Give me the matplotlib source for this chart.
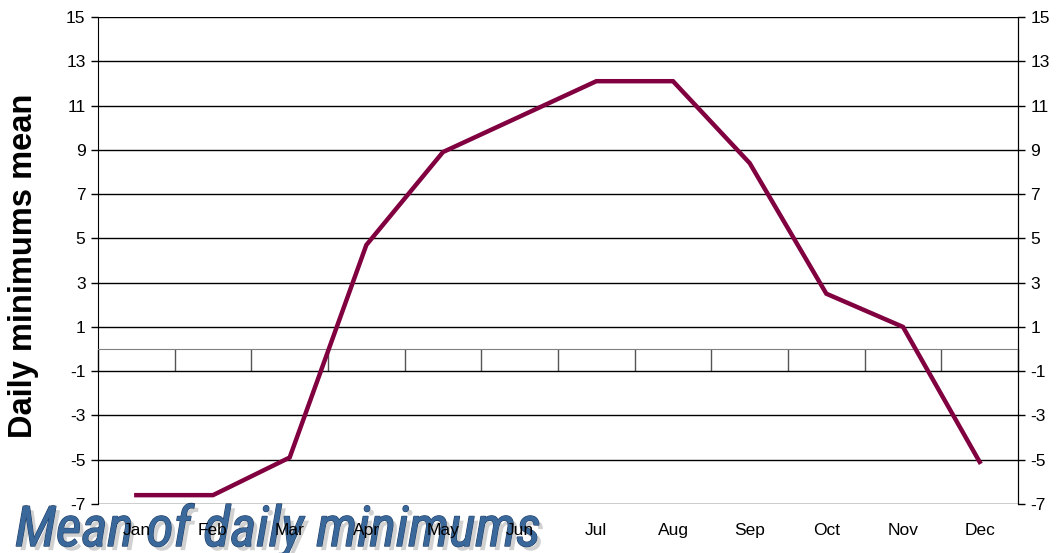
import matplotlib
matplotlib.use("Agg")
import matplotlib.pyplot as plt
import matplotlib.patheffects as pe
import matplotlib.transforms as mtransforms
from matplotlib import font_manager
import numpy as np

months = ['Jan', 'Feb', 'Mar', 'Apr', 'May', 'Jun', 'Jul', 'Aug', 'Sep', 'Oct', 'Nov', 'Dec']
min_mean = [-6.6, -6.6, -4.9, 4.7, 8.9, 10.5, 12.1, 12.1, 8.4, 2.5, 1.0, -5.1]
yticks = list(range(-7, 16, 2))

plt.rcParams['font.family'] = ['Liberation Sans', 'DejaVu Sans']
plt.rcParams['axes.unicode_minus'] = False

# narrow italic face for the title, if there is one
names = {f.name for f in font_manager.fontManager.ttflist}
title_font = next((n for n in ['Liberation Sans Narrow', 'Roboto Condensed', 'Roboto', 'Open Sans']
                   if n in names), 'DejaVu Sans')

fig = plt.figure(figsize=(10.61, 5.53), dpi=100)
ax = fig.add_axes([98 / 1061, 1 - 504 / 553, 920 / 1061, 487 / 553])
ax.set_facecolor('none')

x = np.arange(len(months))
ax.plot(x, min_mean, color='#800040', lw=3.2, solid_joinstyle='miter', zorder=5)

ax.set_xlim(-0.5, len(months) - 0.5)
ax.set_ylim(-7, 15)
ax.set_yticks(yticks)
ax.yaxis.grid(True, color='black', lw=1)
ax.set_axisbelow(True)
ax.tick_params(axis='y', direction='out', length=5, width=1, labelsize=12.5, pad=4)

# category axis crosses at zero, ticks hang down to -1
ax.spines['bottom'].set_position(('data', 0))
ax.spines['bottom'].set_color('#808080')
ax.spines['top'].set_visible(False)
ax.set_xticks(np.arange(-0.5, len(months)))
ax.tick_params(axis='x', direction='out', length=16, width=1, color='#555555', labelbottom=False)

trans = mtransforms.blended_transform_factory(ax.transData, ax.transAxes)
for i, m in enumerate(months):
    ax.text(i, -0.055, m, transform=trans, ha='center', va='center', fontsize=12.5, zorder=10)

ax2 = ax.twinx()
ax2.set_facecolor('none')
ax2.set_ylim(ax.get_ylim())
ax2.set_yticks(yticks)
ax2.tick_params(axis='y', direction='out', length=5, width=1, labelsize=12.5, pad=4)
for s in ['top', 'bottom', 'left']:
    ax2.spines[s].set_visible(False)

fig.text(24 / 1061, 1 - 266 / 553, 'Daily minimums mean', rotation=90, ha='center', va='center',
         fontsize=23.5, fontweight='bold')

title = fig.text(15 / 1061, 1 - 546 / 553, 'Mean of daily minimums', ha='left', va='baseline',
                 fontsize=40, style='italic', weight='normal', family=title_font, color='#3a689a',
                 zorder=-5,
                 path_effects=[pe.withSimplePatchShadow(offset=(3, -3), shadow_rgbFace='#999999', alpha=0.45),
                               pe.withStroke(linewidth=1.0, foreground='#1e3c64'),
                               pe.Normal()])
# fit the title to the width of the original
fig.canvas.draw()
w = title.get_window_extent().width
title.set_fontsize(40 * 525 / w)

fig.savefig('out.png', dpi=100)
